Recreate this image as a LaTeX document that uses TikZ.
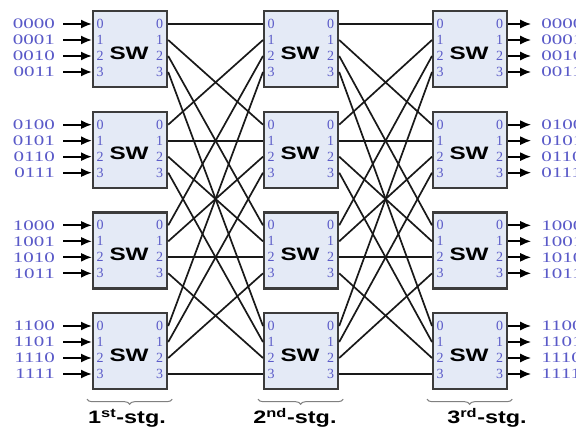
\documentclass[tikz,border=0pt]{standalone}
\usepackage{fontspec}
\setmainfont{Liberation Serif}
\setsansfont{Liberation Sans}
\usepackage{graphicx}
\usetikzlibrary{arrows.meta,decorations.pathreplacing,calc}
\definecolor{portblue}{RGB}{90,90,200}
\definecolor{boxfill}{RGB}{228,234,246}
\definecolor{boxedge}{RGB}{60,60,60}
\newcommand{\hsc}[2]{\scalebox{#1}[1]{#2}}
\begin{document}
\begin{tikzpicture}[x=1pt,y=-1pt,
  swbox/.style={draw=boxedge,fill=boxfill,line width=2.2pt,minimum width=74pt,minimum height=76pt,inner sep=0pt,anchor=north west},
  port/.style={text=portblue,font=\rmfamily\fontsize{14}{14}\selectfont,inner sep=0pt},
  iolabel/.style={text=portblue,font=\rmfamily\fontsize{14.5}{14.5}\selectfont,inner sep=0pt},
  link/.style={line width=1.7pt,draw=black!90},
  ioarrow/.style={line width=1.8pt,-{Latex[length=11pt,width=9pt]}},
  swtext/.style={font=\sffamily\bfseries\fontsize{18}{18}\selectfont,inner sep=0pt},
  stg/.style={font=\sffamily\bfseries\fontsize{18}{18}\selectfont,inner sep=0pt},
  stgbrace/.style={draw=gray,line width=1pt,decorate,decoration={brace,mirror,amplitude=5pt}}
]
\useasboundingbox (0,0) rectangle (576,430);
% switches and ports
\foreach \s/\x in {1/92,2/263,3/432} {
  \foreach \r/\y in {0/10,1/110.67,2/211.33,3/312} {
    \node[swbox] (sw-\s-\r) at (\x,\y) {};
    \node[swtext] (swt-\s-\r) at ($(sw-\s-\r.center)+(-1,4)$) {\hsc{1.35}{SW}};
    \foreach \p in {0,...,3} {
      \coordinate (p-\s-\r-i\p) at ($(sw-\s-\r.north west)+(0,14+16*\p)$);
      \coordinate (p-\s-\r-o\p) at ($(sw-\s-\r.north east)+(0,14+16*\p)$);
      \node[port,anchor=west] (pl-\s-\r-\p) at ($(p-\s-\r-i\p)+(4.5,0)$) {\p};
      \node[port,anchor=east] (pr-\s-\r-\p) at ($(p-\s-\r-o\p)+(-5,0)$) {\p};
    }
  }
}
% inter-stage links (transpose)
\foreach \i in {0,...,3} {
  \foreach \j in {0,...,3} {
    \draw[link] (p-1-\i-o\j) -- (p-2-\j-i\i);
    \draw[link] (p-2-\i-o\j) -- (p-3-\j-i\i);
  }
}
% inputs and outputs
\foreach \r/\rb in {0/00,1/01,2/10,3/11} {
  \foreach \p/\pb in {0/00,1/01,2/10,3/11} {
    \node[iolabel,anchor=east] (in-\r-\p) at ($(p-1-\r-i\p)+(-37,0)$) {\hsc{1.45}{\rb\pb}};
    \draw[ioarrow] ([xshift=8pt]in-\r-\p.east) -- (p-1-\r-i\p);
    \node[iolabel,anchor=west] (out-\r-\p) at ($(p-3-\r-o\p)+(33,0)$) {\hsc{1.45}{\rb\pb}};
    \draw[ioarrow] (p-3-\r-o\p) -- ([xshift=-10pt]out-\r-\p.west);
  }
}
% braces and stage labels
\draw[stgbrace] ($(sw-1-3.south west)+(-5,9)$) -- ($(sw-1-3.south east)+(4,9)$);
\draw[stgbrace] ($(sw-2-3.south west)+(-5,9)$) -- ($(sw-2-3.south east)+(4,9)$);
\draw[stgbrace] ($(sw-3-3.south west)+(-5,9)$) -- ($(sw-3-3.south east)+(4,9)$);
\node[stg] (stg1) at (127,418) {\hsc{1.3}{1\textsuperscript{st}-stg.}};
\node[stg] (stg2) at (295,418) {\hsc{1.3}{2\textsuperscript{nd}-stg.}};
\node[stg] (stg3) at (487,418) {\hsc{1.3}{3\textsuperscript{rd}-stg.}};
\end{tikzpicture}
\end{document}
